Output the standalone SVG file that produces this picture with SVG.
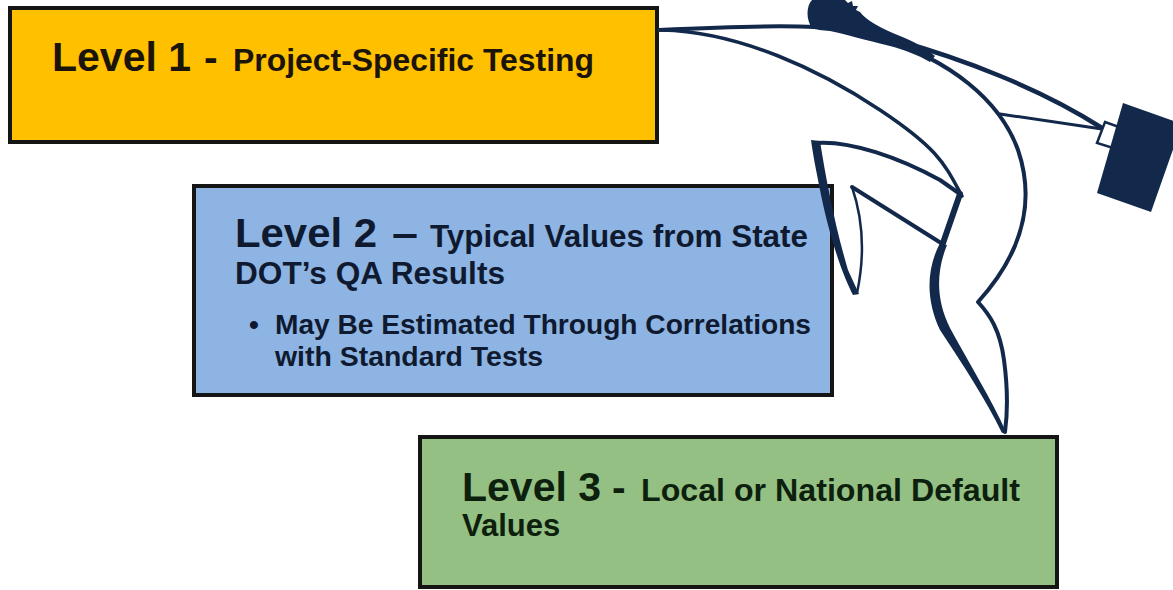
<svg xmlns="http://www.w3.org/2000/svg" width="1173" height="590" viewBox="0 0 1173 590">
  <style>
    .box { stroke: #151515; stroke-width: 4; }
    .t { font-family: "Liberation Sans", Arial, sans-serif; font-weight: bold; }
    .big { font-size: 41px; }
    .mid { font-size: 31px; }
    .small { font-size: 28px; }
    .ink { fill: none; stroke: #13294b; stroke-linecap: round; stroke-linejoin: round; }
    .solid { fill: #13294b; }
  </style>
  <rect width="1173" height="590" fill="#ffffff"/>

  <!-- Level 1 -->
  <g id="level1">
    <rect class="box" x="10" y="8" width="647" height="134" fill="#FFC000"/>
    <g class="t" fill="#1b1408">
      <text class="big" x="52" y="71">Level 1</text>
      <text class="big" x="204" y="71">-</text>
      <text class="mid" x="233" y="71" textLength="361" lengthAdjust="spacingAndGlyphs">Project-Specific Testing</text>
    </g>
  </g>

  <!-- Level 2 -->
  <g id="level2">
    <rect class="box" x="194" y="186" width="638" height="209" fill="#8DB4E2"/>
    <g class="t" fill="#0f1a30">
      <text class="big" x="235" y="247" textLength="142" lengthAdjust="spacingAndGlyphs">Level 2</text>
      <text class="big" x="392" y="247" textLength="26" lengthAdjust="spacingAndGlyphs">–</text>
      <text class="mid" x="430" y="247" textLength="378" lengthAdjust="spacingAndGlyphs">Typical Values from State</text>
      <text class="mid" x="235" y="284" textLength="270" lengthAdjust="spacingAndGlyphs">DOT’s QA Results</text>
      <text class="small" x="249" y="334">•</text>
      <text class="small" x="275" y="334" textLength="536" lengthAdjust="spacingAndGlyphs">May Be Estimated Through Correlations</text>
      <text class="small" x="275" y="366" textLength="268" lengthAdjust="spacingAndGlyphs">with Standard Tests</text>
    </g>
  </g>

  <!-- Level 3 -->
  <g id="level3">
    <rect class="box" x="420" y="437" width="637" height="150" fill="#95C084"/>
    <g class="t" fill="#0d1f0d">
      <text class="big" x="462" y="501">Level 3</text>
      <text class="big" x="612" y="501">-</text>
      <text class="mid" x="641" y="501" textLength="379" lengthAdjust="spacingAndGlyphs">Local or National Default</text>
      <text class="mid" x="462" y="536">Values</text>
    </g>
  </g>

  <!-- running figure with briefcase, drawn over the boxes -->
  <g id="runner">
    <!-- line leaving the first box, up to the head -->
    <path class="ink" stroke-width="4" d="M659,30 C720,27 770,25 815,27"/>
    <!-- front of the body down to the knee -->
    <path class="ink" stroke-width="3.5" d="M662,30 C740,32 820,70 880,110 S945,165 962,196"/>
    <!-- head and neck -->
    <path class="solid" d="M812,28 C806,20 806,6 812,0 L845,0 L848,3 L852,1 L853,6 L858,6 L856,10 L860,12 C866,20 880,28 900,36 C915,42 925,48 935,56 L930,62 C918,55 905,50 890,46 C865,40 845,34 830,31 C822,30 816,30 812,28 Z"/>
    <!-- arm reaching to the briefcase -->
    <path class="ink" stroke-width="4.5" d="M895,40 C960,58 1040,88 1102,128"/>
    <path class="ink" stroke-width="3" d="M1000,114 L1102,129"/>
    <!-- back, down to the front leg -->
    <path class="ink" stroke-width="4" d="M880,38 C950,60 1000,100 1018,150 C1035,200 1025,250 978,302 C990,315 1000,330 1004,360 C1008,390 1008,410 1005,432"/>
    <!-- front leg, inner edge -->
    <path class="solid" d="M940,243 L947,245 C936,272 936,300 950,328 C970,365 992,400 1006,432 L1002,433 C986,400 964,366 940,330 C926,300 926,270 940,243 Z"/>
    <!-- knee -->
    <path class="ink" stroke-width="6" d="M960,194 L943,243"/>
    <!-- raised back leg -->
    <path class="ink" stroke-width="4" d="M815,143 C850,140 900,158 940,180 L960,194"/>
    <path class="solid" d="M811,140 L820,141 C826,180 836,230 848,270 L859,294 L853,295 C840,270 828,230 820,190 C816,170 813,155 811,140 Z"/>
    <path class="ink" stroke-width="4" d="M852,187 L941,243"/>
    <path class="ink" stroke-width="2.5" d="M852,187 C864,222 864,260 857,293"/>
    <!-- briefcase -->
    <path d="M1105,122 L1119,127 L1113,148 L1097,143 Z" fill="#ffffff" stroke="#13294b" stroke-width="2.5"/>
    <path class="solid" d="M1123,103 L1182,124 L1151,212 L1097,193 Z"/>
  </g>
</svg>
